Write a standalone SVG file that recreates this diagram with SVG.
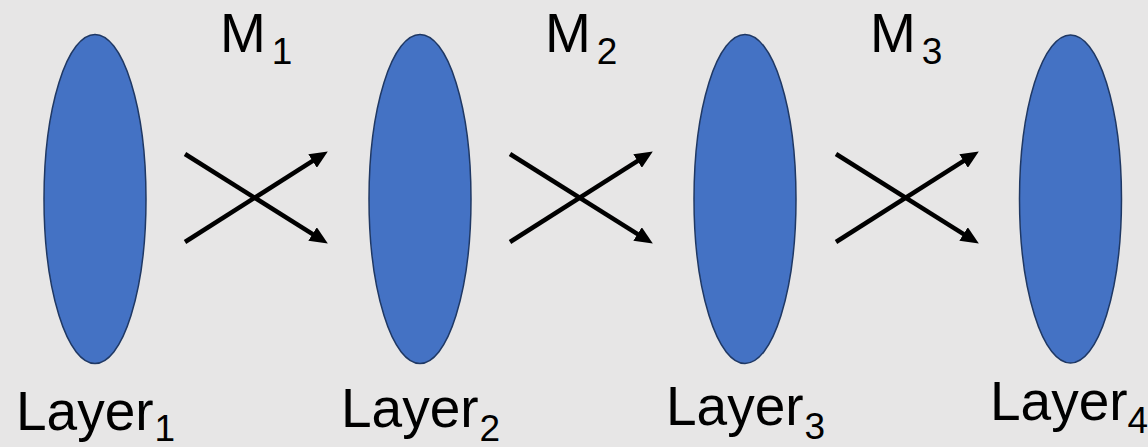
<svg xmlns="http://www.w3.org/2000/svg" width="1148" height="447" viewBox="0 0 1148 447">
<style>
.layer{fill:#4472c4;stroke:#1f3864;stroke-width:1.5}
.lbl{font-family:"Liberation Sans",Arial,sans-serif;font-size:55px;fill:#000}
.sub{font-size:37px}
.con{stroke:#000;stroke-width:4.5;fill:none;marker-end:url(#ah)}
</style>
<defs>
<marker id="ah" markerUnits="userSpaceOnUse" markerWidth="18" markerHeight="16" refX="9" refY="8" orient="auto" viewBox="0 0 18 16">
<path d="M0,0 L18,8 L0,16 z" fill="#000"/>
</marker>
</defs>
<rect x="0" y="0" width="1148" height="447" fill="#e7e6e6"/>
<g id="layer1">
<ellipse class="layer" cx="95" cy="199" rx="51" ry="164.5"/>
<text class="lbl" x="16" y="430">Layer<tspan class="sub" dx="1" dy="11">1</tspan></text>
</g>
<g id="layer2">
<ellipse class="layer" cx="420" cy="199" rx="51" ry="164.5"/>
<text class="lbl" x="341" y="427">Layer<tspan class="sub" dx="1" dy="14">2</tspan></text>
</g>
<g id="layer3">
<ellipse class="layer" cx="745" cy="199" rx="51" ry="164.5"/>
<text class="lbl" x="666" y="425">Layer<tspan class="sub" dx="1" dy="14">3</tspan></text>
</g>
<g id="layer4">
<ellipse class="layer" cx="1070.5" cy="199" rx="51" ry="164"/>
<text class="lbl" x="990" y="420">Layer<tspan class="sub" dx="0" dy="13">4</tspan></text>
</g>
<g id="labels">
<text class="lbl" x="220" y="52">M<tspan class="sub" dx="6" dy="12">1</tspan></text>
<text class="lbl" x="545" y="52">M<tspan class="sub" dx="6" dy="12">2</tspan></text>
<text class="lbl" x="870" y="52">M<tspan class="sub" dx="6" dy="12">3</tspan></text>
</g>
<g id="connectors">
<line class="con" x1="185" y1="154" x2="320.2" y2="238.8"/>
<line class="con" x1="185" y1="242" x2="320.2" y2="156.2"/>
<line class="con" x1="510" y1="154" x2="645.2" y2="238.8"/>
<line class="con" x1="510" y1="242" x2="645.2" y2="156.2"/>
<line class="con" x1="836" y1="154" x2="971.2" y2="238.8"/>
<line class="con" x1="836" y1="242" x2="971.2" y2="156.2"/>
</g>
</svg>
